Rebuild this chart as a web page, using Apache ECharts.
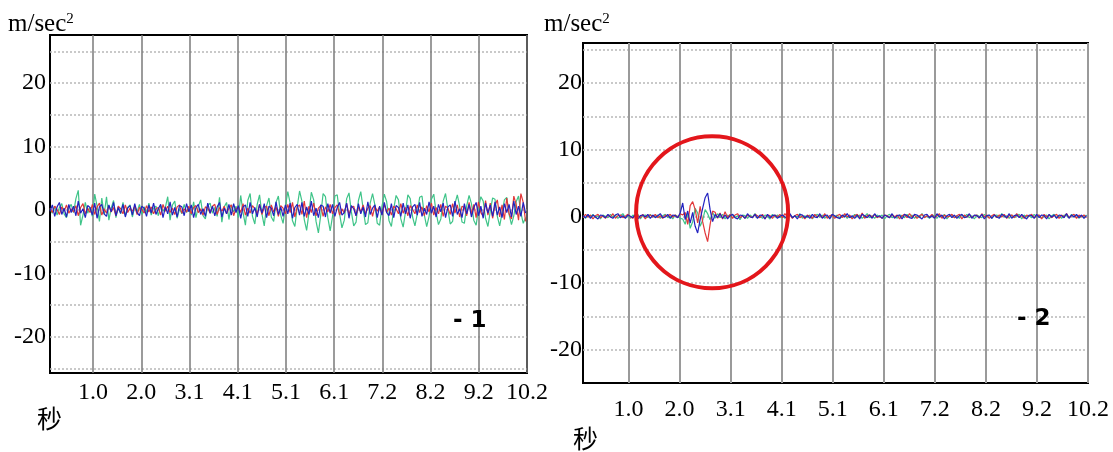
<!DOCTYPE html>
<html>
<head>
<meta charset="utf-8">
<script src="https://cdn.jsdelivr.net/npm/echarts@6/dist/echarts.min.js"></script>
<style>
  html, body { margin: 0; padding: 0; background: #ffffff; }
  #chart { width: 1113px; height: 452px; }
</style>
</head>
<body>
<div id="chart"></div>
<script>
// Sample grid of the recordings (seconds)
const T0 = 0.11;
const DT = 0.05;

// Time axis ticks (one every 1.024 s) and their printed labels
const xTickValues = [1.024, 2.048, 3.072, 4.096, 5.12, 6.144, 7.168, 8.192, 9.216, 10.24];
const xTickLabels = ['1.0', '2.0', '3.1', '4.1', '5.1', '6.1', '7.2', '8.2', '9.2', '10.2'];

// Acceleration axis: labelled values and dotted guide lines (m/sec²)
const yLabelValues = [-20, -10, 0, 10, 20];
const yGuideValues = [-25, -20, -15, -10, -5, 0, 5, 10, 15, 20, 25];

// Record 1 — three acceleration components
const green1 = [
  0.2, -0.5, 0.6, -0.8, 0.4, 1.0, -0.6, -1.2, 0.3, 0.9,
  -0.4, 1.8, 3.1, -2.4, -0.8, 1.2, -0.5, 0.4, -1.0, 2.5,
  0.6, -1.8, 1.9, -0.7, 2.1, -1.6, 0.3, 1.5, -1.2, 0.5,
  -0.6, 1.2, -0.9, 0.4, 0.8, -1.1, 0.6, -0.3, 0.9, -0.7,
  0.5, -0.4, 1.1, -0.8, 0.3, 0.6, -0.9, 0.7, -0.2, 0.4,
  2.1, -1.6, 0.8, 1.4, -1.3, 0.2, -0.6, 0.9, -0.4, 0.3,
  -0.8, 1.3, -1.2, 0.6, 1.6, -0.9, -1.4, 0.7, 1.1, -0.5,
  0.4, -1.0, 2.0, -1.9, 0.5, 1.2, -1.5, 0.8, -0.3, 0.6,
  -1.2, 2.3, -0.4, -2.4, 1.5, 2.6, -1.0, -2.2, 0.9, 2.4,
  -0.6, -2.5, 0.7, 1.9, -1.1, -1.8, 1.2, 2.2, -0.8, -2.1,
  0.6, 2.9, 1.1, -1.7, -2.6, 0.5, 3.0, 1.4, -1.5, -3.2,
  -0.4, 2.8, 1.6, -1.8, -3.6, -0.8, 2.6, 2.1, -1.2, -3.3,
  -1.0, 2.2, 2.4, -0.6, -2.8, -1.6, 1.8, 2.7, -0.3, -2.5,
  -1.9, 1.5, 2.9, 0.2, -2.3, -2.0, 1.1, 2.6, 0.8, -2.1,
  -2.4, 0.6, 2.5, 1.3, -1.7, -2.6, 0.2, 2.3, 1.6, -1.4,
  -2.7, -0.3, 2.4, 1.8, -1.1, -2.5, -0.6, 2.0, 2.2, -0.8,
  -2.6, -1.0, 1.7, 2.5, -0.4, -2.3, -1.4, 1.4, 2.6, 0.1,
  -2.2, -1.8, 1.0, 2.4, 0.6, -1.9, -2.1, 0.7, 2.3, 1.0,
  -1.6, -2.4, 0.3, 2.1, 1.4, -1.3, -2.6, -0.2, 1.9, 1.7,
  -1.0, -2.5, -0.5, 1.6, 2.0, -0.7, -2.3, -0.9, 1.3, 2.2,
  -0.4, -2.1, -1.2
];
const red1 = [
  0.3, -0.4, 0.6, 0.1, -0.7, 0.5, -0.2, 0.8, -0.5, 0.2,
  -0.3, 0.7, -0.9, 0.4, 1.0, -0.6, 0.3, -0.4, 0.9, -0.7,
  0.5, 1.1, -0.8, 0.2, -0.5, 0.7, -0.3, 0.4, -0.9, 0.6,
  0.2, -0.6, 0.8, -0.4, 0.3, -0.2, 0.6, -0.7, 0.4, 0.1,
  -0.5, 0.7, -0.3, 0.5, -0.6, 0.2, 0.4, -0.8, 0.9, -0.2,
  0.6, -0.4, 0.3, -0.7, 0.5, 0.8, -0.5, 0.2, -0.3, 0.6,
  -0.6, 0.4, 0.7, -0.4, 0.2, -0.8, 0.5, 0.3, -0.5, 0.6,
  0.9, -0.7, 0.4, -0.2, 0.6, -0.6, 0.3, 0.8, -0.9, 0.2,
  0.5, -0.4, 1.0, -0.8, 0.3, -0.5, 0.7, 0.2, -0.6, 0.9,
  -0.7, 0.4, 0.6, -0.9, 0.8, -0.3, 0.5, -1.0, 0.7, 0.3,
  -0.6, 0.9, -0.4, 1.2, -1.1, 0.5, 0.8, -0.7, 1.4, -1.2,
  0.6, -0.4, 1.1, -0.9, 0.3, 0.7, -1.0, 0.5, -0.3, 0.9,
  -0.6, 0.4, 0.8, -0.8, 0.2, -0.5, 1.0, -0.7, 0.4, 0.6,
  -0.9, 0.5, -0.3, 0.8, -0.6, 0.3, 0.7, -1.0, 0.6, -0.2,
  0.5, -0.7, 0.9, -0.4, 0.3, -0.8, 0.6, 0.2, -0.6, 1.0,
  -0.5, 0.4, -0.9, 0.7, 0.1, -0.6, 0.8, -0.4, 0.5, -0.9,
  0.7, -0.3, 1.1, -0.8, 0.4, -0.6, 0.9, -1.0, 0.6, 0.3,
  -0.7, 1.0, -0.5, 0.8, -1.1, 0.6, 0.4, -0.9, 1.2, -0.6,
  0.9, -1.2, 1.3, -0.4, -1.0, 1.5, -0.8, 1.1, -1.3, 0.7,
  1.6, -1.1, 0.8, -1.5, 1.9, -0.6, -1.4, 2.2, 0.9, -1.6,
  2.6, 1.2, -1.8
];
const blue1 = [
  -0.2, 0.8, -1.0, 0.5, 1.2, -0.7, 0.3, -1.1, 0.9, -0.4,
  0.6, -0.9, 1.4, -0.5, 0.2, -1.2, 0.7, 0.4, -0.8, 1.1,
  -1.3, 0.5, 0.9, -0.6, -1.0, 0.8, -0.3, 1.2, -0.9, 0.4,
  -0.5, 0.9, -1.1, 0.3, 0.7, -0.8, 1.0, -0.4, -0.9, 0.6,
  0.3, -1.0, 0.8, -0.5, 1.1, -0.7, 0.2, 0.9, -1.2, 0.5,
  -0.6, 1.3, -0.8, 0.4, -1.1, 0.7, 0.5, -0.9, 1.0, -0.3,
  0.8, -1.2, 0.4, 0.9, -0.7, 0.2, -1.0, 1.1, -0.5, 0.6,
  -0.9, 0.5, 1.2, -1.1, 0.3, -0.6, 0.9, -0.8, 1.0, -0.4,
  0.7, -1.3, 0.5, 0.8, -1.0, 1.2, -0.6, 0.4, -1.1, 0.9,
  -0.5, 1.0, -1.2, 0.6, 0.3, -0.9, 1.3, -0.7, 0.5, -1.0,
  0.8, -0.6, 1.1, -1.3, 0.4, 0.9, -0.8, 1.2, -1.0, 0.5,
  -0.7, 1.4, -0.9, 0.3, -1.2, 0.8, 0.6, -1.1, 1.0, -0.5,
  0.9, -1.0, 0.4, 1.2, -0.8, -0.4, 1.1, -1.3, 0.7, 0.2,
  -0.9, 1.0, -0.6, 0.5, -1.1, 1.3, -0.7, 0.3, 0.8, -1.2,
  0.6, -0.8, 1.2, -0.4, -0.9, 1.0, -1.2, 0.7, 0.4, -1.0,
  1.1, -0.6, 0.8, -1.3, 0.5, 0.9, -0.8, 1.2, -1.0, 0.3,
  -0.7, 1.3, -0.5, 0.6, -1.1, 0.9, -0.3, 1.1, -1.2, 0.5,
  0.8, -1.0, 1.4, -0.7, 0.2, -1.2, 1.0, -0.6, 0.9, -1.1,
  0.4, 1.2, -0.9, 0.6, -1.3, 1.1, -0.5, 0.8, -1.0, 1.3,
  -0.8, 0.5, -1.2, 1.0, -0.4, 0.9, -1.1, 1.4, -0.7, 0.6,
  -1.0, 1.2, -0.5
];

// Record 2 — three acceleration components (short burst near 2–3 s)
const green2 = [
  0.1, -0.3, 0.2, -0.1, 0.3, -0.2, 0.1, -0.4, 0.2, 0.0,
  -0.2, 0.3, -0.1, 0.2, -0.3, 0.1, 0.4, -0.2, 0.1, -0.3,
  0.2, -0.1, 0.3, -0.4, 0.1, 0.2, -0.2, 0.3, -0.1, 0.0,
  0.2, -0.3, 0.1, 0.3, -0.2, 0.1, -0.4, 0.2, 0.0, -0.3,
  -0.4, -1.2, 0.5, -1.8, -0.8, 1.2, 0.5, -1.5, -0.6, 1.0,
  0.4, -0.5, 0.6, -0.3, 0.4, -0.2, 0.3, -0.4, 0.2, -0.1,
  0.3, -0.2, 0.1, -0.5, 0.2, 0.1, -0.3, 0.2, -0.1, 0.4,
  -0.2, 0.1, -0.3, 0.2, 0.0, -0.4, 0.3, -0.1, 0.2, -0.2,
  0.1, -0.3, 0.2, 0.3, -0.2, 0.1, -0.1, 0.4, -0.3, 0.1,
  -0.2, 0.2, -0.4, 0.1, 0.3, -0.1, 0.2, -0.3, 0.1, -0.2,
  0.3, -0.1, 0.2, -0.4, 0.1, 0.2, -0.3, 0.1, -0.2, 0.3,
  -0.1, 0.2, -0.3, 0.0, 0.4, -0.2, 0.1, -0.3, 0.2, -0.1,
  0.2, -0.4, 0.1, 0.3, -0.2, 0.0, -0.3, 0.2, 0.1, -0.2,
  0.3, -0.1, 0.2, -0.3, 0.1, -0.2, 0.4, -0.1, 0.0, -0.3,
  0.2, 0.1, -0.3, 0.2, -0.1, 0.3, -0.4, 0.1, 0.2, -0.2,
  0.1, -0.3, 0.2, -0.1, 0.3, -0.2, 0.1, -0.4, 0.2, 0.0,
  -0.2, 0.3, -0.1, 0.2, -0.3, 0.1, 0.2, -0.2, 0.4, -0.1,
  0.1, -0.3, 0.2, -0.2, 0.1, 0.3, -0.4, 0.2, -0.1, 0.1,
  -0.2, 0.3, -0.1, 0.2, -0.3, 0.0, 0.2, -0.4, 0.1, 0.3,
  -0.2, 0.1, -0.3, 0.2, 0.1, -0.2, 0.3, -0.1, 0.2, -0.3,
  0.1, -0.2, 0.2
];
const red2 = [
  -0.2, 0.3, -0.1, 0.2, -0.4, 0.1, 0.3, -0.2, 0.1, -0.3,
  0.2, -0.1, 0.4, -0.3, 0.1, 0.2, -0.2, 0.0, 0.3, -0.1,
  -0.3, 0.2, 0.1, -0.2, 0.3, -0.4, 0.1, 0.2, -0.1, 0.3,
  -0.2, 0.1, -0.3, 0.2, 0.0, 0.3, -0.1, 0.2, -0.2, 0.4,
  0.2, 0.6, -1.2, 1.6, 2.2, 1.0, -1.0, 1.5, -0.8, -2.5,
  -3.8, -1.2, 0.8, 0.6, -0.3, 0.5, -0.4, 0.7, -0.2, 0.3,
  -0.3, 0.2, 0.4, -0.2, 0.1, -0.3, 0.2, 0.0, -0.2, 0.3,
  0.1, -0.2, 0.3, -0.4, 0.2, 0.1, -0.3, 0.2, -0.1, 0.3,
  -0.2, 0.4, -0.1, 0.2, -0.3, 0.1, 0.3, -0.2, 0.1, -0.4,
  0.2, 0.0, -0.3, 0.3, -0.1, 0.2, -0.2, 0.4, -0.3, 0.1,
  0.2, -0.3, 0.1, 0.3, -0.2, 0.4, -0.1, 0.2, -0.4, 0.1,
  0.3, -0.2, 0.5, -0.3, 0.1, 0.2, -0.1, 0.3, -0.2, 0.0,
  -0.3, 0.2, 0.1, -0.2, 0.3, -0.1, 0.2, -0.4, 0.1, 0.3,
  -0.2, 0.4, -0.1, 0.2, -0.3, 0.1, 0.3, -0.2, 0.1, -0.1,
  0.3, -0.2, 0.1, 0.4, -0.3, 0.2, -0.1, 0.0, 0.3, -0.2,
  0.1, 0.3, -0.4, 0.2, -0.1, 0.3, -0.2, 0.1, 0.2, -0.3,
  0.4, -0.1, 0.2, -0.3, 0.1, 0.3, -0.2, 0.2, -0.1, 0.3,
  -0.3, 0.1, 0.2, -0.2, 0.4, -0.1, 0.1, -0.3, 0.2, 0.0,
  0.3, -0.2, 0.1, 0.2, -0.4, 0.3, -0.1, 0.2, -0.2, 0.1,
  0.3, -0.3, 0.2, -0.1, 0.4, -0.2, 0.1, 0.3, -0.3, 0.2,
  -0.1, 0.2, -0.2
];
const blue2 = [
  0.1, -0.2, 0.3, -0.3, 0.2, -0.1, -0.4, 0.2, 0.1, -0.2,
  0.3, -0.1, -0.3, 0.2, 0.4, -0.2, 0.1, -0.3, 0.2, 0.0,
  -0.2, 0.3, -0.4, 0.1, 0.2, -0.1, 0.3, -0.3, 0.2, -0.2,
  0.1, 0.4, -0.2, -0.1, 0.3, -0.3, 0.2, 0.1, -0.2, 0.5,
  2.0, -0.5, 0.8, -1.0, 0.6, -1.5, -2.5, -0.5, 1.2, 2.8,
  3.5, 1.0, -0.8, 0.3, -0.2, 0.4, -0.3, 0.2, -0.4, 0.1,
  0.3, -0.2, -0.4, 0.2, 0.1, -0.3, 0.4, -0.1, -0.2, 0.3,
  -0.3, 0.2, 0.1, -0.4, 0.3, -0.2, 0.1, 0.2, -0.3, 0.0,
  0.2, -0.1, -0.3, 0.4, -0.2, 0.1, -0.4, 0.3, 0.2, -0.2,
  0.1, -0.3, 0.3, -0.1, -0.2, 0.4, -0.3, 0.1, 0.2, -0.4,
  0.3, 0.1, -0.2, -0.3, 0.2, -0.1, 0.4, -0.2, 0.1, -0.3,
  0.2, -0.4, 0.3, 0.1, -0.2, 0.2, -0.3, 0.4, -0.1, 0.1,
  -0.3, 0.2, 0.0, -0.2, 0.4, -0.3, 0.1, 0.2, -0.4, 0.3,
  0.1, -0.2, -0.3, 0.3, 0.2, -0.1, -0.4, 0.2, 0.3, -0.2,
  0.1, -0.3, 0.4, -0.1, 0.2, -0.4, 0.1, 0.3, -0.2, 0.2,
  -0.3, 0.1, 0.3, -0.2, -0.1, 0.4, -0.3, 0.2, 0.1, -0.2,
  0.3, -0.4, 0.1, 0.2, -0.3, 0.2, -0.1, -0.3, 0.3, 0.1,
  -0.2, 0.4, -0.3, 0.1, 0.2, -0.2, 0.3, -0.1, -0.4, 0.2,
  0.1, -0.3, 0.3, -0.2, 0.2, 0.1, -0.4, 0.3, -0.1, 0.2,
  -0.3, 0.2, 0.1, -0.2, 0.4, -0.3, 0.2, -0.1, 0.3, -0.2,
  0.2, -0.3, 0.1
];

// Marked region of record 2 (data units) and its ring radius (px)
const burstCentre = [2.7, 0.6];
const ringRadius = 76;

const COLORS = { green: '#3fc489', red: '#e2383a', blue: '#2222c0' };
const SERIF = '"Liberation Serif", "Times New Roman", serif';

function withTime(values) {
  return values.map((v, i) => [+(T0 + i * DT).toFixed(2), v]);
}

function xAxisFor(gridIndex, labelMargin, gridColor, gridWidth) {
  return {
    type: 'value', gridIndex, min: T0, max: 10.24,
    axisLine: { show: false },
    axisTick: { show: false, customValues: xTickValues },
    axisLabel: {
      customValues: xTickValues,
      margin: labelMargin,
      fontFamily: SERIF, fontSize: 24, color: '#000',
      formatter: v => {
        const k = xTickValues.findIndex(t => Math.abs(t - v) < 1e-6);
        return k >= 0 ? xTickLabels[k] : '';
      }
    },
    splitLine: { show: true, lineStyle: { color: gridColor, width: gridWidth } }
  };
}

function yAxisFor(gridIndex, min, max, labelMargin) {
  // dotted guides strictly inside the frame so the frame stays solid
  const guides = yGuideValues.filter(v => v > min + 0.2 && v < max - 0.2);
  return {
    type: 'value', gridIndex, min, max,
    axisLine: { show: false },
    axisTick: { show: false, customValues: guides },
    axisLabel: {
      customValues: yLabelValues,
      margin: labelMargin,
      fontFamily: SERIF, fontSize: 24, color: '#000'
    },
    splitLine: { show: true, lineStyle: { color: '#b8b8b8', width: 1.5, type: [2, 2] } }
  };
}

function line(name, values, color, axisIndex) {
  return {
    name, type: 'line', data: withTime(values),
    xAxisIndex: axisIndex, yAxisIndex: axisIndex,
    showSymbol: false, symbol: 'none', silent: true, animation: false,
    lineStyle: { color, width: 1.2 }
  };
}

const chart = echarts.init(document.getElementById('chart'), null, { renderer: 'canvas' });

chart.setOption({
  backgroundColor: '#ffffff',
  animation: false,
  grid: [
    { left: 50, top: 35, right: 586, bottom: 79, show: true, borderColor: '#000', borderWidth: 2,
      backgroundColor: 'transparent', containLabel: false, outerBoundsMode: 'none' },
    { left: 583, top: 43, right: 25, bottom: 69, show: true, borderColor: '#000', borderWidth: 2,
      backgroundColor: 'transparent', containLabel: false, outerBoundsMode: 'none' }
  ],
  xAxis: [
    xAxisFor(0, 8, '#7a7a7a', 1.5),
    xAxisFor(1, 15, '#9a9a9a', 2)
  ],
  yAxis: [
    yAxisFor(0, -25.7, 27.6, 4),
    yAxisFor(1, -25, 26, 1)
  ],
  series: [
    line('green-1', green1, COLORS.green, 0),
    line('red-1', red1, COLORS.red, 0),
    line('blue-1', blue1, COLORS.blue, 0),
    line('green-2', green2, COLORS.green, 1),
    line('red-2', red2, COLORS.red, 1),
    line('blue-2', blue2, COLORS.blue, 1)
  ]
});

// Unit captions, time captions, panel tags and the ring round the burst
const unitRich = {
  u: { fontFamily: SERIF, fontSize: 25, color: '#000' },
  s: { fontFamily: SERIF, fontSize: 15, color: '#000', verticalAlign: 'top', padding: [0, 0, 10, 0] }
};
const centre = chart.convertToPixel({ gridIndex: 1 }, burstCentre);

chart.setOption({
  graphic: [
    { type: 'text', left: 8, top: 12, style: { text: '{u|m/sec}{s|2}', rich: unitRich } },
    { type: 'text', left: 544, top: 12, style: { text: '{u|m/sec}{s|2}', rich: unitRich } },
    { type: 'text', left: 37, top: 406,
      style: { text: '秒', fontFamily: '"Noto Sans CJK SC", sans-serif', fontSize: 25, fill: '#000' } },
    { type: 'text', left: 573, top: 426,
      style: { text: '秒', fontFamily: '"Noto Sans CJK SC", sans-serif', fontSize: 25, fill: '#000' } },
    { type: 'text', left: 453, top: 310,
      style: { text: '- 1', fontFamily: '"DejaVu Sans", sans-serif', fontWeight: 'bold', fontSize: 23, fill: '#000' } },
    { type: 'text', left: 1017, top: 308,
      style: { text: '- 2', fontFamily: '"DejaVu Sans", sans-serif', fontWeight: 'bold', fontSize: 23, fill: '#000' } },
    { type: 'circle', shape: { cx: centre[0], cy: centre[1], r: ringRadius },
      style: { fill: 'none', stroke: '#e3161b', lineWidth: 4 }, silent: true, z: 100 }
  ]
});
</script>
</body>
</html>
